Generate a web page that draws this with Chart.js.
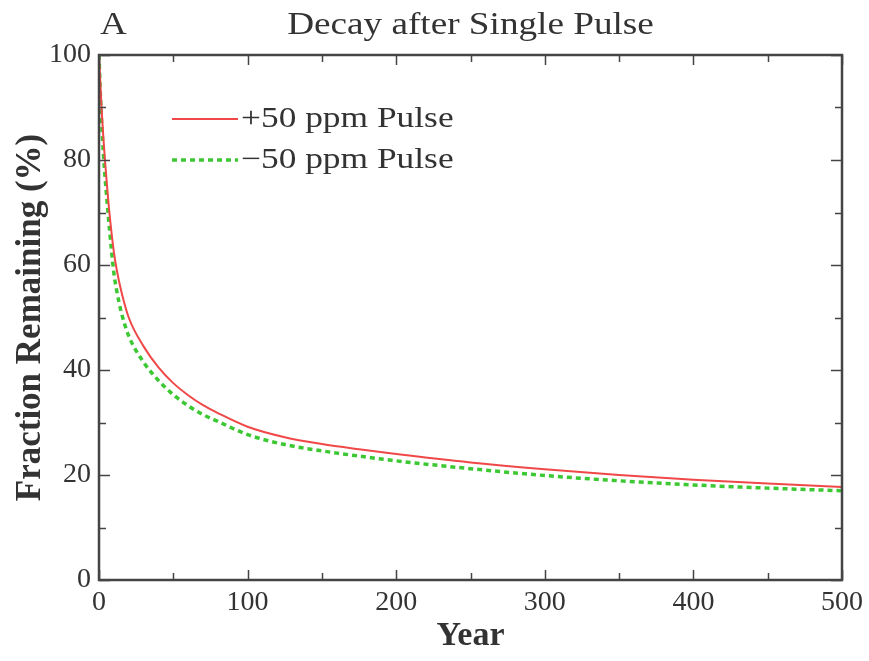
<!DOCTYPE html>
<html>
<head>
<meta charset="utf-8">
<script src="https://cdn.jsdelivr.net/npm/chart.js@4"></script>
<style>
  html, body { margin: 0; padding: 0; background: #fff; }
</style>
</head>
<body>
<canvas id="myChart" width="869" height="661"></canvas>
<script>
'use strict';

// values (percent remaining after the pulse)
const years = [0, 1, 2, 3, 4, 5, 7, 10, 12, 15, 20, 30, 40, 50, 60, 70, 80, 100, 125, 150, 175, 200, 250, 300, 350, 400, 450, 500];
const plus50 = [100, 94, 88.5, 84, 80, 76.5, 70, 62.5, 59, 55, 50, 44.5, 40.5, 37.5, 35.2, 33.3, 31.8, 29.2, 27.2, 25.9, 24.9, 24.0, 22.4, 21.1, 20.0, 19.1, 18.4, 17.7];
const minus50 = [100, 92, 86, 81, 77, 73.5, 67, 58.5, 55, 51, 46.5, 41.5, 38, 35.3, 33.2, 31.5, 30.2, 27.7, 25.8, 24.6, 23.6, 22.7, 21.2, 19.9, 18.9, 18.1, 17.5, 17.0];
const seriesNames = ['+50 ppm Pulse', '\u221250 ppm Pulse'];
const xTickStep = 100;
const yTickStep = 20;

const serif = "'Liberation Serif', 'Times New Roman', serif";
const ink = '#333';
const redColor = '#f04848';
const greenColor = '#3cc832';

function toPoints(vals) {
  return years.map((yr, i) => ({x: yr, y: vals[i]}));
}

// text drawn a little wider than the font, as in the scanned figure
function wideText(ctx, text, x, y, stretch) {
  ctx.save();
  ctx.translate(x, y);
  ctx.scale(stretch, 1);
  ctx.fillText(text, 0, 0);
  ctx.restore();
}

// frame, inward ticks, legend and heading
const decorations = {
  id: 'decorations',
  afterDatasetsDraw(chart) {
    const {ctx, chartArea: a, scales: {x, y}} = chart;
    ctx.save();
    ctx.strokeStyle = '#444';
    ctx.lineWidth = 1.5;
    ctx.beginPath();
    for (let v = 0; v <= 500; v += xTickStep / 2) {
      const len = v % xTickStep === 0 ? 10 : 7;
      const px = Math.round(x.getPixelForValue(v)) + 0.5;
      ctx.moveTo(px, a.bottom); ctx.lineTo(px, a.bottom - len);
      ctx.moveTo(px, a.top); ctx.lineTo(px, a.top + len);
    }
    for (let v = 0; v <= 100; v += yTickStep / 2) {
      const len = v % yTickStep === 0 ? 11 : 7;
      const py = Math.round(y.getPixelForValue(v)) + 0.5;
      ctx.moveTo(a.left, py); ctx.lineTo(a.left + len, py);
      ctx.moveTo(a.right, py); ctx.lineTo(a.right - len, py);
    }
    ctx.stroke();
    ctx.lineWidth = 2.5;
    ctx.strokeRect(a.left, a.top, a.width, a.height);

    // legend
    const ds = chart.data.datasets;
    ctx.font = '29px ' + serif;
    ctx.fillStyle = ink;
    ctx.textBaseline = 'middle';
    ds.forEach((d, i) => {
      const ly = 119 + i * 41;
      ctx.strokeStyle = d.borderColor;
      ctx.lineWidth = d.borderWidth;
      ctx.setLineDash(d.borderDash || []);
      ctx.beginPath();
      ctx.moveTo(172, ly); ctx.lineTo(238, ly);
      ctx.stroke();
      ctx.setLineDash([]);
      wideText(ctx, d.label, 241, ly, 1.22);
    });

    // heading
    ctx.textBaseline = 'alphabetic';
    ctx.font = '31px ' + serif;
    ctx.textAlign = 'left';
    wideText(ctx, 'A', 100, 34, 1.2);
    ctx.textAlign = 'center';
    wideText(ctx, 'Decay after Single Pulse', (a.left + a.right) / 2, 34, 1.2);
    ctx.restore();
  }
};

const progressChart = document.getElementById('myChart');

function drawChart() {
  return new Chart(progressChart, {
    type: 'line',
    data: {
      datasets: [{
        label: seriesNames[0],
        data: toPoints(plus50),
        borderColor: redColor,
        borderWidth: 2,
        pointRadius: 0,
        cubicInterpolationMode: 'monotone'
      }, {
        label: seriesNames[1],
        data: toPoints(minus50),
        borderColor: greenColor,
        borderWidth: 3.5,
        borderDash: [5, 4],
        pointRadius: 0,
        cubicInterpolationMode: 'monotone'
      }]
    },
    options: {
      responsive: false,
      animation: false,
      layout: {padding: {top: 55, right: 26, left: 0, bottom: 0}},
      plugins: {legend: {display: false}, tooltip: {enabled: false}},
      scales: {
        x: {
          type: 'linear',
          min: 0,
          max: 500,
          afterFit: s => { s.height = 81; },
          grid: {display: false, drawTicks: false},
          border: {display: false},
          ticks: {
            stepSize: xTickStep,
            padding: 6,
            color: ink,
            font: {family: serif, size: 28},
            maxRotation: 0
          },
          title: {
            display: true,
            text: 'Year',
            color: ink,
            font: {family: serif, size: 34, weight: 'bold'},
            padding: {top: 4, bottom: 4}
          }
        },
        y: {
          min: 0,
          max: 100,
          afterFit: s => { s.width = 99; },
          grid: {display: false, drawTicks: false},
          border: {display: false},
          ticks: {
            stepSize: yTickStep,
            padding: 8,
            color: ink,
            font: {family: serif, size: 28}
          },
          title: {
            display: true,
            text: 'Fraction Remaining (%)',
            color: ink,
            font: {family: serif, size: 35, weight: 'bold'},
            padding: {top: 10, bottom: 4}
          }
        }
      }
    },
    plugins: [decorations]
  });
}

drawChart();
</script>
</body>
</html>
